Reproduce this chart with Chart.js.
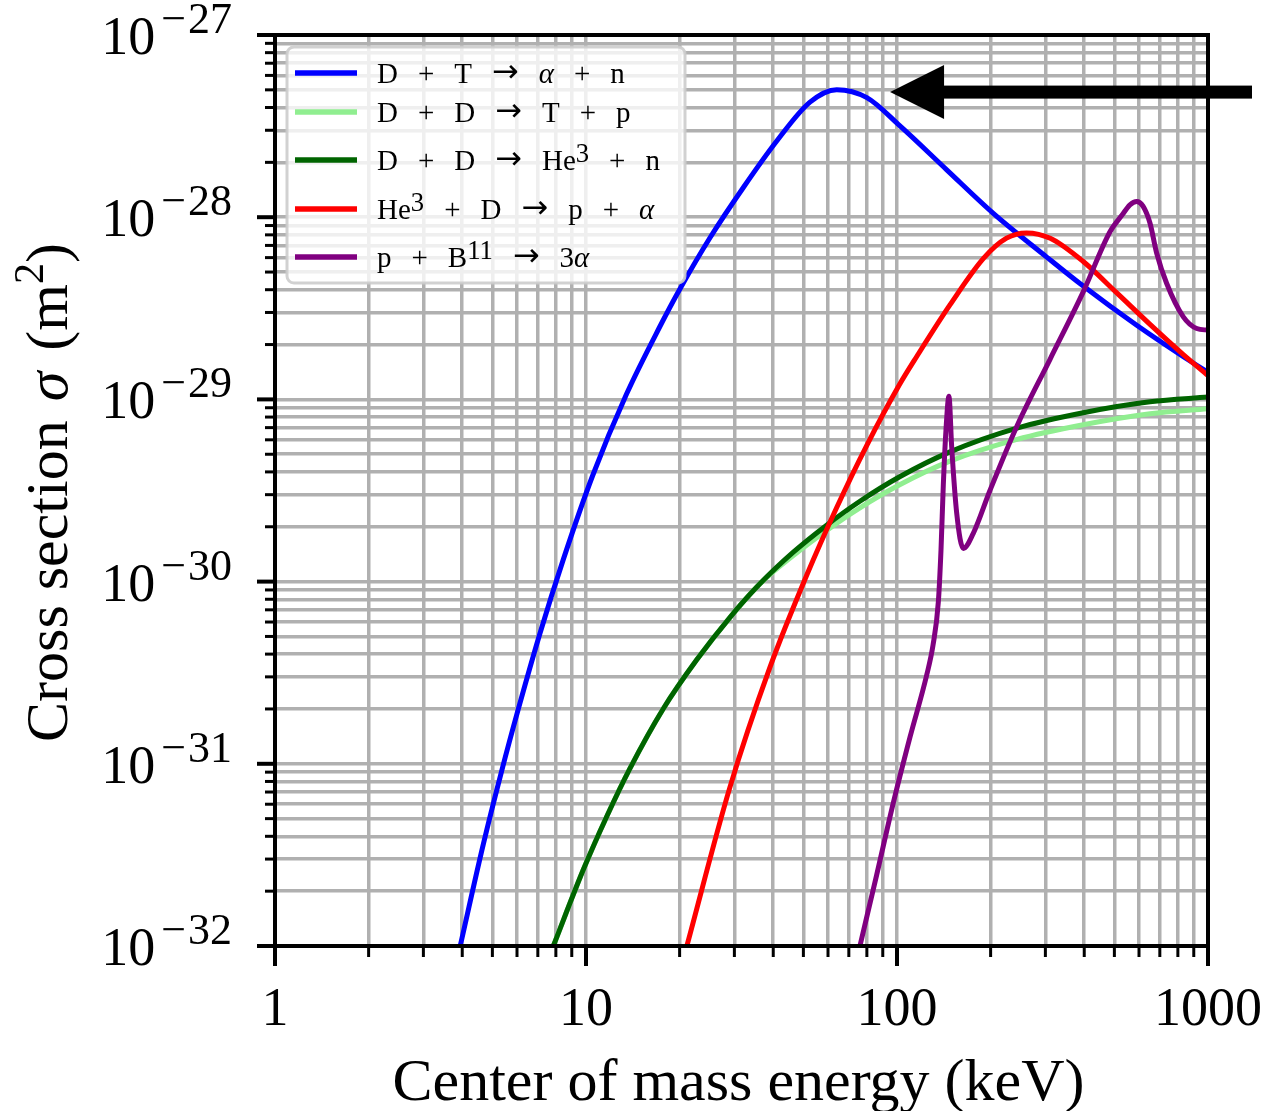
<!DOCTYPE html>
<html>
<head>
<meta charset="utf-8">
<script src="https://cdn.jsdelivr.net/npm/chart.js@4.4.1/dist/chart.umd.min.js"></script>
<style>
  html, body { margin: 0; padding: 0; background: #ffffff; }
  #wrap { width: 1266px; height: 1111px; }
</style>
</head>
<body>
<div id="wrap"><canvas id="chart" width="1266" height="1111"></canvas></div>
<script>
// ---------------- DATA ----------------
const seriesLabels = [
  'D + T → α + n',
  'D + D → T + p',
  'D + D → He^3 + n',
  'He^3 + D → p + α',
  'p + B^11 → 3α'
];
const seriesColors = ['#0000ff', '#90ee90', '#006400', '#ff0000', '#800080'];

// D + T -> alpha + n   (energy keV, cross section m^2)
const dtEnergy = [3.94, 4.67, 5.36, 6.06, 7.11, 8.45, 10.5, 13.5, 17.3, 20.0, 25.1, 32.1, 41.0, 52.5, 64.0, 80.0, 102, 144.5, 204, 303, 396, 590, 831, 1000];
const dtSigma  = [1.0e-32, 3.59e-32, 9.18e-32, 2.00e-31, 5.19e-31, 1.32e-30, 3.81e-30, 1.07e-29, 2.52e-29, 4.01e-29, 7.76e-29, 1.46e-28, 2.61e-28, 4.28e-28, 5.01e-28, 4.53e-28, 3.18e-28, 1.82e-28, 1.05e-28, 6.04e-29, 4.20e-29, 2.55e-29, 1.72e-29, 1.41e-29];

// D + D -> T + p
const ddTpEnergy = [7.85, 9.80, 11.66, 13.85, 17.7, 22.7, 29.0, 36.3, 46.4, 59.4, 76.0, 102, 148, 243, 397, 651, 1000];
const ddTpSigma  = [1.0e-32, 2.62e-32, 5.14e-32, 9.44e-32, 2.00e-31, 3.72e-31, 6.35e-31, 9.75e-31, 1.39e-30, 1.91e-30, 2.54e-30, 3.40e-30, 4.58e-30, 6.03e-30, 7.26e-30, 8.34e-30, 8.89e-30];

// D + D -> He3 + n
const ddHeEnergy = [7.85, 9.80, 11.66, 13.85, 17.7, 22.7, 29.0, 36.3, 46.4, 59.4, 76.0, 102, 148, 243, 397, 651, 1000];
const ddHeSigma  = [1.0e-32, 2.62e-32, 5.14e-32, 9.44e-32, 2.00e-31, 3.72e-31, 6.35e-31, 9.75e-31, 1.45e-30, 2.04e-30, 2.76e-30, 3.76e-30, 5.15e-30, 6.95e-30, 8.45e-30, 9.70e-30, 1.03e-29];

// He3 + D -> p + alpha
const heDEnergy = [21.1, 29.0, 39.0, 51.2, 64.0, 79.9, 102, 116, 148, 190, 225, 261, 311, 397, 509, 651, 833, 1000];
const heDSigma  = [1.0e-32, 7.40e-32, 3.37e-31, 1.08e-30, 2.55e-30, 5.58e-30, 1.21e-29, 1.73e-29, 3.30e-29, 5.96e-29, 7.67e-29, 8.20e-29, 7.66e-29, 5.71e-29, 3.84e-29, 2.58e-29, 1.76e-29, 1.35e-29];

// p + B11 -> 3 alpha
const pbEnergy = [76.0, 86.0, 97.3, 110.1, 124.6, 130.6, 135.8, 138.5, 140.9, 143.7, 146.9, 149.9, 155.6, 163.4, 175.9, 199, 242.5, 310.5, 397, 484, 530, 561, 590, 618, 651, 684, 736, 833, 920, 1000];
const pbSigma  = [1.0e-32, 2.45e-32, 6.10e-32, 1.40e-31, 3.07e-31, 4.49e-31, 7.73e-31, 1.49e-30, 3.39e-30, 6.79e-30, 1.04e-29, 5.50e-30, 2.37e-30, 1.52e-30, 1.84e-30, 3.16e-30, 7.08e-30, 1.66e-29, 3.89e-29, 8.32e-29, 1.03e-28, 1.17e-28, 1.22e-28, 1.15e-28, 9.27e-29, 6.34e-29, 4.34e-29, 2.84e-29, 2.45e-29, 2.40e-29];

// axes
const xMin = 1, xMax = 1000;
const yMin = 1e-32, yMax = 1e-27;
const xTickValues = [1, 10, 100, 1000];
const xTickLabels = ['1', '10', '100', '1000'];
const yTickValues = [1e-32, 1e-31, 1e-30, 1e-29, 1e-28, 1e-27];
const yTickExponents = ['32', '31', '30', '29', '28', '27'];
const xAxisTitle = 'Center of mass energy (keV)';
const yAxisTitleParts = ['Cross section ', 'σ', ' (m', '2', ')'];

// annotation arrow (data coordinates)
const arrowTipX = 95, arrowTipY = 4.86e-28, arrowTailX = 1385;

// ---------------- RENDERING ----------------
const FONT = '"Liberation Serif", "DejaVu Serif", serif';
const ARROW_FONT = '"DejaVu Sans", sans-serif';

function logTicks(minExp, maxExp) {
  const t = [];
  for (let e = minExp; e < maxExp; e++) {
    for (let m = 1; m < 10; m++) t.push({ value: parseFloat(m + 'e' + e) });
  }
  t.push({ value: parseFloat('1e' + maxExp) });
  return t;
}
function isMajor(v) {
  const l = Math.log10(v);
  return Math.abs(l - Math.round(l)) < 1e-9;
}
function fontOf(p) {
  return (p.italic ? 'italic ' : '') + p.size + 'px ' + (p.family || FONT);
}

function drawRich(ctx, parts, x, y, align) {
  let total = 0;
  parts.forEach(p => {
    ctx.font = fontOf(p);
    p.w = ctx.measureText(p.t).width;
    total += p.w + (p.after || 0);
  });
  let cx = align === 'center' ? x - total / 2 : (align === 'right' ? x - total : x);
  ctx.textAlign = 'left';
  ctx.textBaseline = 'alphabetic';
  parts.forEach(p => {
    ctx.font = fontOf(p);
    ctx.fillText(p.t, cx, y - (p.raise || 0));
    cx += p.w + (p.after || 0);
  });
  return total;
}

function legendParts(label, size, gap) {
  const parts = [];
  const toks = label.split(' ');
  toks.forEach((tok, ti) => {
    const m = tok.match(/^([^\^]*)(?:\^(.+))?$/);
    const base = m[1], sup = m[2];
    for (const ch of base) {
      if (ch === '→') parts.push({ t: ch, size: size * 1.1, family: ARROW_FONT, raise: 1 });
      else parts.push({ t: ch, size: size, italic: /[α-ω]/.test(ch) });
    }
    if (sup) parts.push({ t: sup, size: size * 0.92, raise: 8 });
    if (ti < toks.length - 1) parts[parts.length - 1].after = gap;
  });
  return parts;
}

const decorPlugin = {
  id: 'decor',
  afterDatasetsDraw(chart) {
    const ctx = chart.ctx;
    const a = chart.chartArea;
    const xs = chart.scales.x, ys = chart.scales.y;
    ctx.save();

    // ---- legend ----
    const lx = a.left + 12, ly = a.top + 12, lw = 398, lh = 236, r = 7;
    ctx.beginPath();
    ctx.moveTo(lx + r, ly);
    ctx.arcTo(lx + lw, ly, lx + lw, ly + lh, r);
    ctx.arcTo(lx + lw, ly + lh, lx, ly + lh, r);
    ctx.arcTo(lx, ly + lh, lx, ly, r);
    ctx.arcTo(lx, ly, lx + lw, ly, r);
    ctx.closePath();
    ctx.fillStyle = 'rgba(255,255,255,0.8)';
    ctx.fill();
    ctx.strokeStyle = 'rgba(204,204,204,0.9)';
    ctx.lineWidth = 3;
    ctx.stroke();

    const rowY = [73, 112, 160, 209, 257].map(v => v - 35 + a.top);
    chart.data.datasets.forEach((ds, i) => {
      const yy = rowY[i];
      ctx.strokeStyle = ds.borderColor;
      ctx.lineWidth = 5.5;
      ctx.lineCap = 'butt';
      ctx.beginPath();
      ctx.moveTo(a.left + 20, yy);
      ctx.lineTo(a.left + 82, yy);
      ctx.stroke();
      ctx.fillStyle = '#000';
      drawRich(ctx, legendParts(ds.label, 29, 20), a.left + 102, yy + 10, 'left');
    });

    // ---- spines ----
    ctx.strokeStyle = '#000';
    ctx.lineWidth = 4;
    ctx.lineCap = 'square';
    ctx.strokeRect(a.left, a.top, a.right - a.left, a.bottom - a.top);

    // ---- tick marks ----
    ctx.lineCap = 'butt';
    xs.ticks.forEach(t => {
      const px = xs.getPixelForValue(t.value);
      const maj = isMajor(t.value);
      ctx.lineWidth = maj ? 4 : 3;
      ctx.beginPath();
      ctx.moveTo(px, a.bottom);
      ctx.lineTo(px, a.bottom + (maj ? 20 : 11));
      ctx.stroke();
    });
    ys.ticks.forEach(t => {
      const py = ys.getPixelForValue(t.value);
      const maj = isMajor(t.value);
      ctx.lineWidth = maj ? 4 : 3;
      ctx.beginPath();
      ctx.moveTo(a.left, py);
      ctx.lineTo(a.left - (maj ? 18 : 10), py);
      ctx.stroke();
    });

    // ---- tick labels ----
    ctx.fillStyle = '#000';
    xTickValues.forEach((v, i) => {
      const px = xs.getPixelForValue(v);
      drawRich(ctx, [{ t: xTickLabels[i], size: 54 }], px, a.bottom + 79, 'center');
    });
    yTickValues.forEach((v, i) => {
      const py = ys.getPixelForValue(v);
      drawRich(ctx, [
        { t: '10', size: 54, after: 6 },
        { t: '−', size: 44, raise: 21, after: 2 },
        { t: yTickExponents[i], size: 44, raise: 21 }
      ], a.left - 43, py + 19, 'right');
    });

    // ---- axis titles ----
    drawRich(ctx, [{ t: xAxisTitle, size: 60 }], (a.left + a.right) / 2 - 3, a.bottom + 154, 'center');
    ctx.save();
    ctx.translate(67, (a.top + a.bottom) / 2 + 2);
    ctx.rotate(-Math.PI / 2);
    drawRich(ctx, [
      { t: yAxisTitleParts[0], size: 60, after: 4 },
      { t: yAxisTitleParts[1], size: 60, italic: true, after: 6 },
      { t: yAxisTitleParts[2], size: 60 },
      { t: yAxisTitleParts[3], size: 42, raise: 24 },
      { t: yAxisTitleParts[4], size: 60 }
    ], 0, 0, 'center');
    ctx.restore();

    // ---- arrow annotation ----
    const tx = xs.getPixelForValue(arrowTipX);
    const ty = ys.getPixelForValue(arrowTipY);
    const ex = xs.getPixelForValue(arrowTailX);
    ctx.fillStyle = '#000';
    ctx.fillRect(tx + 50, ty - 6.5, ex - tx - 50, 13);
    ctx.beginPath();
    ctx.moveTo(tx, ty);
    ctx.lineTo(tx + 54, ty - 27);
    ctx.lineTo(tx + 54, ty + 27);
    ctx.closePath();
    ctx.fill();

    ctx.restore();
  }
};

const seriesEnergy = [dtEnergy, ddTpEnergy, ddHeEnergy, heDEnergy, pbEnergy];
const seriesSigma = [dtSigma, ddTpSigma, ddHeSigma, heDSigma, pbSigma];

const datasets = seriesLabels.map((label, i) => ({
  label: label,
  data: seriesEnergy[i].map((e, j) => ({ x: e, y: seriesSigma[i][j] })),
  borderColor: seriesColors[i],
  backgroundColor: seriesColors[i],
  borderWidth: 5,
  pointRadius: 0,
  pointHoverRadius: 0,
  fill: false,
  cubicInterpolationMode: 'monotone',
  borderJoinStyle: 'round',
  order: 10 - i
}));

const gridOpts = { color: '#b0b0b0', lineWidth: 3.5, drawTicks: false };

new Chart(document.getElementById('chart'), {
  type: 'line',
  data: { datasets: datasets },
  options: {
    responsive: false,
    animation: false,
    devicePixelRatio: 1,
    layout: { padding: { left: 275, right: 58, top: 35, bottom: 165 } },
    plugins: { legend: { display: false }, tooltip: { enabled: false } },
    scales: {
      x: {
        type: 'logarithmic', min: xMin, max: xMax,
        grid: gridOpts,
        border: { display: false },
        ticks: { display: false },
        afterBuildTicks: s => { s.ticks = logTicks(0, 3); }
      },
      y: {
        type: 'logarithmic', min: yMin, max: yMax,
        grid: gridOpts,
        border: { display: false },
        ticks: { display: false },
        afterBuildTicks: s => { s.ticks = logTicks(-32, -27); }
      }
    }
  },
  plugins: [decorPlugin]
});
</script>
</body>
</html>
